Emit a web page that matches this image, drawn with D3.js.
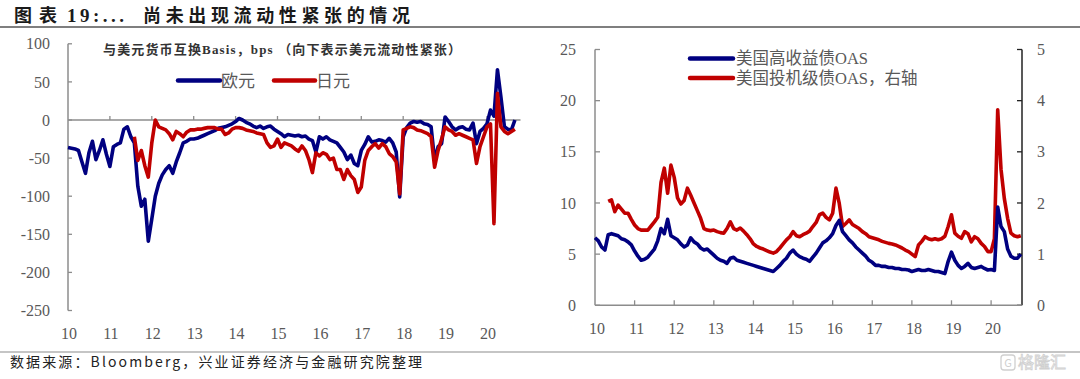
<!DOCTYPE html>
<html><head><meta charset="utf-8">
<script src="https://cdn.jsdelivr.net/npm/d3@7"></script>
<style>html,body{margin:0;padding:0;background:#fff;overflow:hidden}</style>
</head><body>
<svg id="c" width="1080" height="379"></svg>
<script>
// ---------- DATA ----------
const startYear = 2010; // monthly observations, first = Jan 2010
const leftTicks = [10,11,12,13,14,15,16,17,18,19,20];
const leftYTicks = [100,50,0,-50,-100,-150,-200,-250];
const rightTicks = [10,11,12,13,14,15,16,17,18,19,20];
const rightYTicks = [0,5,10,15,20,25];
const rightY2Ticks = [0,1,2,3,4,5];

// EUR cross-currency basis vs USD, bps (monthly, Jan 2010 - Sep 2020)
const eur = [
 -36,-37,-38,-40,-55,-70,-43,-28,-52,-40,-26,-45,
 -61,-35,-32,-30,-12,-9,-22,-30,-87,-113,-104,-159,
 -130,-100,-83,-72,-65,-60,-70,-55,-43,-30,-28,-25,
 -25,-24,-22,-20,-18,-16,-14,-11,-10,-9,-7,-5,
 -2,2,0,-3,-5,-8,-10,-8,-11,-9,-8,-12,
 -15,-18,-22,-19,-20,-21,-20,-22,-21,-25,-27,-42,
 -22,-25,-22,-26,-28,-30,-36,-42,-52,-46,-57,-60,
 -40,-32,-22,-29,-28,-26,-27,-29,-24,-30,-42,-101,
 -22,-10,-4,-2,-3,-2,-5,-6,-9,-53,-35,-31,
 4,-2,-9,-13,-10,-9,-12,-13,-4,-31,-15,-11,
 -5,13,5,66,30,-9,-12,-13,0
];
// JPY cross-currency basis vs USD, bps (monthly, starts Aug 2011)
const jpy = [
 null,null,null,null,null,null,null,null,null,null,null,null,
 null,null,null,null,null,null,null,-22,-53,-40,-60,-75,
 -30,0,-9,-11,-13,-18,-26,-15,-18,-22,-16,-13,
 -13,-12,-12,-11,-10,-10,-10,-12,-12,-19,-17,-12,
 -10,-10,-11,-13,-14,-15,-17,-18,-19,-30,-36,-34,
 -25,-36,-30,-32,-34,-38,-41,-34,-40,-52,-69,-43,
 -47,-43,-45,-52,-50,-65,-65,-78,-65,-73,-78,-95,
 -88,-53,-40,-35,-31,-37,-31,-35,-44,-48,-55,-97,
 -13,-11,-9,-10,-13,-14,-16,-18,-22,-62,-40,-25,
 -9,-13,-15,-20,-18,-20,-22,-24,-26,-57,-35,-22,
 -9,-5,-136,35,-9,-15,-18,-15,-12
];
// US high yield OAS, % (monthly, Jan 2010 - Oct 2020)
const hy = [
 6.6,6.3,5.7,5.4,6.9,7.0,6.9,6.8,6.5,6.4,6.2,5.9,
 5.3,4.8,4.4,4.5,4.7,5.1,5.5,6.3,7.5,7.0,8.4,6.8,
 6.6,6.4,6.0,5.7,5.9,6.6,6.2,6.0,5.6,5.4,5.5,5.2,
 4.9,4.6,4.4,4.3,4.1,4.6,4.7,4.4,4.3,4.2,4.1,4.0,
 3.9,3.8,3.7,3.6,3.5,3.4,3.3,3.6,3.9,4.3,4.6,5.1,
 5.4,5.0,4.75,4.6,4.5,4.3,4.7,5.1,5.6,6.1,6.3,6.6,
 7.0,7.8,8.3,7.2,6.8,6.4,6.1,5.7,5.4,5.1,4.8,4.4,
 4.2,3.9,3.9,3.8,3.8,3.7,3.7,3.6,3.6,3.5,3.5,3.45,
 3.3,3.4,3.5,3.4,3.4,3.5,3.4,3.3,3.3,3.2,3.1,4.3,
 5.2,4.4,3.9,3.6,3.8,4.1,3.7,3.6,3.7,3.8,3.6,3.45,
 3.5,3.4,9.6,7.7,7.2,5.5,4.8,4.6,4.6,5.0
];
// US investment grade OAS, % (right axis, monthly, starts May 2010)
const ig = [
 null,null,null,null,2.03,2.06,1.83,1.96,1.88,1.80,1.80,1.68,
 1.57,1.50,1.47,1.47,1.47,1.55,1.63,1.72,2.40,2.68,2.19,2.74,
 2.50,2.10,1.98,2.05,2.29,2.15,2.00,1.85,1.70,1.50,1.47,1.46,
 1.47,1.44,1.42,1.41,1.50,1.63,1.50,1.47,1.51,1.45,1.38,1.30,
 1.20,1.15,1.12,1.10,1.07,1.04,1.02,1.05,1.12,1.20,1.28,1.34,
 1.44,1.36,1.34,1.38,1.41,1.45,1.54,1.62,1.77,1.80,1.72,1.67,
 1.80,2.29,1.99,1.54,1.60,1.67,1.58,1.54,1.50,1.44,1.40,1.34,
 1.32,1.30,1.28,1.25,1.23,1.21,1.20,1.18,1.15,1.12,1.08,1.05,
 1.00,0.95,1.18,1.25,1.34,1.30,1.28,1.30,1.28,1.30,1.35,1.54,
 1.77,1.41,1.35,1.31,1.44,1.40,1.24,1.34,1.30,1.21,1.15,1.05,
 1.05,1.30,3.82,2.66,2.09,1.70,1.41,1.36,1.34,1.36
];

// ---------- STYLE ----------
const NAVY = "#000080", RED = "#C00000";
const AX = "#8c8c8c", TXT = "#595959";
const SERIF = "'Liberation Serif','Noto Sans CJK SC',serif";
const CJK = "'Noto Sans CJK SC','Liberation Serif',sans-serif";
const LW = 3.6;

const svg = d3.select("#c");
svg.append("rect").attr("width",1080).attr("height",379).attr("fill","#fff");

// ---------- TITLE ----------
svg.append("text").attr("x",14).attr("y",22).attr("font-family",CJK).attr("font-weight","bold")
  .attr("font-size",18).attr("fill","#1a1a1a").attr("textLength",43).attr("lengthAdjust","spacing").text("图表");
svg.append("text").attr("x",67).attr("y",22).attr("font-family",SERIF).attr("font-weight","bold")
  .attr("font-size",19).attr("fill","#1a1a1a").attr("textLength",57).attr("lengthAdjust","spacing").text("19:...");
svg.append("text").attr("x",143).attr("y",22).attr("font-family",CJK).attr("font-weight","bold")
  .attr("font-size",18).attr("fill","#1a1a1a").attr("textLength",267).attr("lengthAdjust","spacing").text("尚未出现流动性紧张的情况");
svg.append("line").attr("x1",0).attr("x2",1080).attr("y1",27).attr("y2",27).attr("stroke","#7f7f7f").attr("stroke-width",2);

// ---------- FOOTER ----------
svg.append("line").attr("x1",0).attr("x2",1080).attr("y1",352).attr("y2",352).attr("stroke","#8c8c8c").attr("stroke-width",1.2);
svg.append("text").attr("x",10).attr("y",367).attr("font-family",CJK).attr("font-size",14).attr("fill","#222")
  .attr("textLength",412).attr("lengthAdjust","spacing").text("数据来源：Bloomberg，兴业证券经济与金融研究院整理");
// watermark
svg.append("rect").attr("x",1001).attr("y",355).attr("width",14).attr("height",15).attr("rx",3)
  .attr("fill","none").attr("stroke","#d0d0d0").attr("stroke-width",1.3);
svg.append("text").attr("x",1008).attr("y",367).attr("text-anchor","middle").attr("font-family",CJK)
  .attr("font-size",11).attr("fill","#d0d0d0").text("G");
svg.append("text").attr("x",1018).attr("y",368).attr("font-family",CJK).attr("font-size",16)
  .attr("fill","none").attr("stroke","#d0d0d0").attr("stroke-width",0.8).text("格隆汇");

// ---------- LEFT CHART ----------
const monthT = i => startYear + i/12;
const xL = d3.scaleLinear().domain([2010, 2020.8]).range([68, 520.5]);
const yL = d3.scaleLinear().domain([-250, 100]).range([310.5, 43.8]);
const gL = svg.append("g");

gL.append("line").attr("x1",xL(2010)).attr("x2",xL(2010)).attr("y1",yL(100)).attr("y2",yL(-250))
  .attr("stroke",AX).attr("stroke-width",1.5);
leftYTicks.forEach(v=>{
  gL.append("line").attr("x1",xL(2010)).attr("x2",xL(2010)+4).attr("y1",yL(v)).attr("y2",yL(v)).attr("stroke",AX).attr("stroke-width",1.3);
  gL.append("text").attr("x",50).attr("y",yL(v)).attr("dy","0.35em").attr("text-anchor","end")
    .attr("font-family",SERIF).attr("font-size",16).attr("fill",TXT).text(v);
});
gL.append("line").attr("x1",xL(2010)).attr("x2",xL(2020.8)).attr("y1",yL(0)).attr("y2",yL(0))
  .attr("stroke",AX).attr("stroke-width",1.5);
leftTicks.forEach(t=>{
  const yr = 2000+t;
  if (t>10) gL.append("line").attr("x1",xL(yr)).attr("x2",xL(yr)).attr("y1",yL(0)).attr("y2",yL(0)-4).attr("stroke",AX).attr("stroke-width",1.3);
  gL.append("text").attr("x",xL(yr)+1).attr("y",339).attr("text-anchor","middle")
    .attr("font-family",SERIF).attr("font-size",16).attr("fill",TXT).text(t);
});
const lineL = d3.line().defined(d=>d!=null).x((d,i)=>xL(monthT(i))).y(d=>yL(d));
gL.append("path").attr("d",lineL(eur)).attr("fill","none").attr("stroke",NAVY).attr("stroke-width",LW).attr("stroke-linejoin","round");
gL.append("path").attr("d",lineL(jpy)).attr("fill","none").attr("stroke",RED).attr("stroke-width",LW).attr("stroke-linejoin","round");

gL.append("text").attr("x",103).attr("y",53.5).attr("font-family",SERIF).attr("font-weight","bold").attr("font-size",13)
  .attr("fill","#333").attr("textLength",358).attr("lengthAdjust","spacing").text("与美元货币互换Basis，bps （向下表示美元流动性紧张）");
[[178,220,NAVY,"欧元"],[274,315,RED,"日元"]].forEach(([a,b,c,t])=>{
  gL.append("line").attr("x1",a).attr("x2",b).attr("y1",80.5).attr("y2",80.5).attr("stroke",c).attr("stroke-width",4.5).attr("stroke-linecap","round");
  gL.append("text").attr("x",b+1).attr("y",80.5).attr("dy","0.36em").attr("font-family",CJK).attr("font-size",17)
    .attr("fill",TXT).text(t);
});

// ---------- RIGHT CHART ----------
const xR = d3.scaleLinear().domain([2010, 2020.78]).range([595, 1022]);
const yR = d3.scaleLinear().domain([0, 25]).range([305.3, 49.5]);
const yR2 = d3.scaleLinear().domain([0, 5]).range([305.3, 49.5]);
const gR = svg.append("g");
gR.append("line").attr("x1",xR(2010)).attr("x2",xR(2010)).attr("y1",yR(25)).attr("y2",yR(0)).attr("stroke",AX).attr("stroke-width",1.5);
rightYTicks.forEach(v=>{
  gR.append("line").attr("x1",xR(2010)).attr("x2",xR(2010)+5).attr("y1",yR(v)).attr("y2",yR(v)).attr("stroke",AX).attr("stroke-width",1.3);
  gR.append("text").attr("x",576).attr("y",yR(v)).attr("dy","0.35em").attr("text-anchor","end")
    .attr("font-family",SERIF).attr("font-size",16).attr("fill",TXT).text(v);
});
gR.append("line").attr("x1",xR(2020.78)).attr("x2",xR(2020.78)).attr("y1",yR2(5)).attr("y2",yR2(0)).attr("stroke","#222").attr("stroke-width",1.5);
rightY2Ticks.forEach(v=>{
  gR.append("line").attr("x1",xR(2020.78)).attr("x2",xR(2020.78)-5).attr("y1",yR2(v)).attr("y2",yR2(v)).attr("stroke","#222").attr("stroke-width",1.3);
  gR.append("text").attr("x",1037).attr("y",yR2(v)).attr("dy","0.35em").attr("text-anchor","start")
    .attr("font-family",SERIF).attr("font-size",16).attr("fill",TXT).text(v);
});
gR.append("line").attr("x1",xR(2010)).attr("x2",xR(2020.78)).attr("y1",yR(0)).attr("y2",yR(0)).attr("stroke",AX).attr("stroke-width",1.5);
rightTicks.forEach(t=>{
  const yr = 2000+t;
  if (t>10) gR.append("line").attr("x1",xR(yr)).attr("x2",xR(yr)).attr("y1",yR(0)).attr("y2",yR(0)-5).attr("stroke",AX).attr("stroke-width",1.3);
  gR.append("text").attr("x",xR(yr)+2).attr("y",334).attr("text-anchor","middle")
    .attr("font-family",SERIF).attr("font-size",16).attr("fill",TXT).text(t);
});
const lineHY = d3.line().defined(d=>d!=null).x((d,i)=>xR(monthT(i))).y(d=>yR(d));
const lineIG = d3.line().defined(d=>d!=null).x((d,i)=>xR(monthT(i))).y(d=>yR2(d));
gR.append("path").attr("d",lineIG(ig)).attr("fill","none").attr("stroke",RED).attr("stroke-width",LW).attr("stroke-linejoin","round");
gR.append("path").attr("d",lineHY(hy)).attr("fill","none").attr("stroke",NAVY).attr("stroke-width",LW).attr("stroke-linejoin","round");
[[58.5,NAVY,"美国高收益债OAS"],[78,RED,"美国投机级债OAS，右轴"]].forEach(([y,c,t])=>{
  gR.append("line").attr("x1",690).attr("x2",733).attr("y1",y).attr("y2",y).attr("stroke",c).attr("stroke-width",4.5).attr("stroke-linecap","round");
  gR.append("text").attr("x",736).attr("y",y).attr("dy","0.36em").attr("font-family",SERIF).attr("font-size",16.5)
    .attr("fill",TXT).text(t);
});
</script>
</body></html>
